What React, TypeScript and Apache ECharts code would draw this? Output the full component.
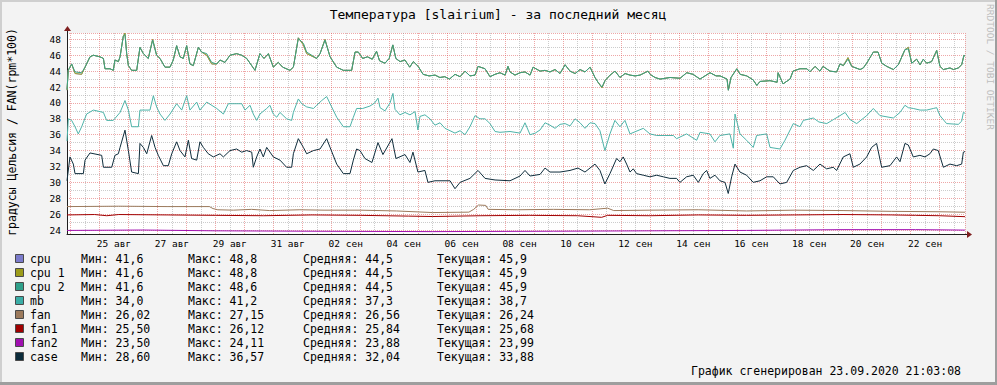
import React, { useEffect, useRef } from "react";
import * as echarts from "echarts";

// Time is in hours since 24.08.2020 00:00; the graph covers 23.08 21:03 -> 23.09 21:03
const T_START = -2.95;
const T_END = 741.05;
const Y_MIN = 23.5;
const Y_MAX = 48.8;

const dayLabels = [
  "25 авг", "27 авг", "29 авг", "31 авг", "02 сен", "04 сен", "06 сен", "08 сен",
  "10 сен", "12 сен", "14 сен", "16 сен", "18 сен", "20 сен", "22 сен",
];
const LABEL_FIRST_H = 36; // 25 авг 12:00
const LABEL_STEP_H = 48;

const seriesNames = ["cpu", "cpu 1", "cpu 2", "mb", "fan", "fan1", "fan2", "case"];
const seriesColors = ["#7B7BCB", "#9C9C1A", "#2FA08A", "#3AADA6", "#9C7A5C", "#A00000", "#A010B0", "#0B2B3B"];
const lineColors = ["#7B7BCB", "#A6A628", "#3A9F82", "#4DB3A8", "#9C7A5C", "#A00000", "#A010B0", "#0F2D3C"];
const legendMin = ["41,6", "41,6", "41,6", "34,0", "26,02", "25,50", "23,50", "28,60"];
const legendMax = ["48,8", "48,8", "48,6", "41,2", "27,15", "26,12", "24,11", "36,57"];
const legendAvg = ["44,5", "44,5", "44,5", "37,3", "26,56", "25,84", "23,88", "32,04"];
const legendCur = ["45,9", "45,9", "45,9", "38,7", "26,24", "25,68", "23,99", "33,88"];

const title = "Температура [slairium] - за последний месяц";
const yTitle = "градусы Цельсия / FAN(rpm*100)";
const footer = "График сгенерирован 23.09.2020 21:03:08";
const watermark = "RRDTOOL / TOBI OETIKER";

// cpu and cpu 1 share the same readings
const cpuPts: [number, number][] = [
  [-2.95, 41.6], [-1.9, 44.1], [0.9, 44.9], [3.7, 43.7], [9.2, 43.6], [12.0, 44.5], [16.1, 45.8], [18.9, 46.0],
  [24.4, 45.8], [27.2, 45.6], [28.5, 44.3], [32.7, 44.3], [35.4, 44.1], [36.8, 45.4], [39.6, 45.2], [41.0, 45.8],
  [43.7, 48.4], [45.1, 48.8], [46.5, 46.2], [47.9, 44.7], [50.6, 44.1], [54.8, 44.1], [57.5, 47.0], [60.3, 46.2],
  [64.4, 45.6], [68.0, 48.0], [71.3, 46.0], [74.1, 45.6], [78.2, 44.5], [82.4, 44.5], [85.1, 45.4], [87.9, 47.2],
  [90.7, 45.8], [93.4, 45.6], [96.2, 47.2], [98.9, 44.9], [101.7, 44.7], [105.9, 47.0], [108.6, 46.4], [112.8, 46.0],
  [116.9, 44.9], [121.1, 44.9], [123.8, 45.4], [127.9, 45.1], [132.1, 46.0], [137.6, 46.2], [141.8, 46.0], [145.9, 45.6],
  [152.8, 44.1], [156.9, 46.2], [160.3, 45.6], [163.9, 46.2], [168.0, 44.5], [172.1, 45.1], [175.7, 44.5], [181.8, 44.1],
  [184.6, 44.5], [188.7, 48.2], [192.9, 47.3], [195.6, 46.2], [203.9, 45.6], [206.7, 46.2], [210.8, 48.0], [215.0, 45.8],
  [220.5, 44.5], [226.0, 44.1], [232.9, 44.1], [235.7, 46.4], [238.4, 46.4], [242.0, 45.6], [246.0, 45.8], [250.0, 45.5],
  [253.5, 46.5], [256.0, 45.3], [260.5, 45.0], [264.0, 45.6], [267.0, 47.3], [269.5, 45.6], [273.0, 45.2], [277.0, 45.4],
  [281.0, 44.5], [284.0, 45.2], [288.0, 44.6], [292.0, 43.6], [297.0, 43.4], [302.0, 43.5], [306.0, 43.2], [310.0, 43.3],
  [314.0, 43.0], [318.5, 43.6], [322.7, 43.3], [326.8, 44.0], [330.9, 43.4], [335.1, 43.5], [337.6, 44.6], [343.4, 44.3],
  [347.5, 43.3], [351.7, 43.6], [355.8, 43.8], [360.0, 43.5], [362.4, 44.6], [364.1, 43.9], [368.2, 43.5], [372.4, 43.8],
  [376.5, 43.9], [380.7, 43.5], [383.2, 44.5], [389.0, 44.0], [393.1, 44.1], [397.2, 43.9], [401.4, 44.2], [405.5, 43.7],
  [409.7, 44.8], [413.8, 44.0], [418.0, 43.7], [422.1, 44.2], [426.2, 43.9], [430.4, 44.5], [434.5, 43.2], [437.0, 42.6],
  [440.3, 41.9], [442.8, 42.8], [447.0, 43.5], [451.1, 44.0], [455.2, 43.2], [459.4, 43.7], [463.5, 43.5], [467.7, 43.4],
  [471.8, 43.5], [478.4, 44.0], [480.1, 43.6], [484.2, 43.2], [488.4, 43.0], [496.7, 43.2], [505.0, 43.1], [510.5, 43.8],
  [515.7, 43.6], [521.5, 43.0], [529.8, 43.8], [534.8, 43.4], [538.1, 43.4], [543.9, 43.0], [545.0, 41.6], [547.2, 43.2],
  [552.0, 44.3], [554.7, 43.6], [560.2, 43.4], [565.5, 42.9], [568.6, 42.2], [571.2, 42.7], [579.5, 42.8], [585.4, 42.6],
  [586.2, 43.8], [590.3, 42.4], [596.1, 43.0], [598.6, 44.0], [604.3, 44.3], [610.1, 44.3], [612.6, 43.9], [616.8, 44.6],
  [620.9, 44.0], [623.4, 44.6], [629.2, 44.0], [634.7, 43.9], [637.5, 44.9], [640.3, 44.7], [644.1, 45.7], [647.2, 44.6],
  [654.1, 44.2], [656.8, 44.4], [659.6, 45.0], [665.1, 46.4], [669.0, 46.4], [672.1, 45.0], [676.2, 44.6], [678.9, 44.4],
  [681.7, 44.2], [685.8, 44.8], [691.3, 46.7], [694.1, 47.0], [696.9, 45.0], [701.0, 45.5], [703.8, 44.8], [706.5, 45.5],
  [709.3, 45.0], [713.4, 45.2], [717.6, 46.6], [720.3, 44.6], [723.1, 44.2], [728.6, 44.4], [731.4, 44.2], [735.5, 44.4],
  [738.3, 44.8], [740.2, 46.0], [741.05, 45.9],
];

const cpu2Pts: [number, number][] = [
  [-2.95, 41.7], [-1.9, 44.1], [0.9, 44.9], [3.7, 43.9], [9.2, 43.8], [12.0, 44.5], [16.1, 45.8], [18.9, 46.0],
  [24.4, 45.8], [27.2, 45.6], [28.5, 44.3], [32.7, 44.3], [35.4, 44.1], [36.8, 45.4], [39.6, 45.2], [41.0, 45.8],
  [43.7, 48.4], [45.1, 48.6], [46.5, 46.2], [47.9, 44.7], [50.6, 44.1], [54.8, 44.1], [57.5, 47.0], [60.3, 46.2],
  [64.4, 45.6], [68.0, 47.9], [71.3, 46.0], [74.1, 45.6], [78.2, 44.5], [82.4, 44.5], [85.1, 45.4], [87.9, 47.2],
  [90.7, 45.8], [93.4, 45.6], [96.2, 47.2], [98.9, 44.9], [101.7, 44.7], [105.9, 47.0], [108.6, 46.4], [112.8, 46.2],
  [116.9, 45.1], [121.1, 44.9], [123.8, 45.4], [127.9, 45.1], [132.1, 46.0], [137.6, 46.2], [141.8, 46.0], [145.9, 45.6],
  [152.8, 44.1], [156.9, 46.2], [160.3, 45.6], [163.9, 46.2], [168.0, 44.5], [172.1, 45.1], [175.7, 44.5], [181.8, 44.1],
  [184.6, 44.5], [188.7, 48.1], [192.9, 47.5], [195.6, 46.4], [203.9, 45.6], [206.7, 46.2], [210.8, 47.9], [215.0, 45.8],
  [220.5, 44.5], [226.0, 44.1], [232.9, 44.1], [235.7, 46.4], [238.4, 46.4], [242.0, 45.6], [246.0, 45.8], [250.0, 45.5],
  [253.5, 46.5], [256.0, 45.3], [260.5, 45.0], [264.0, 45.6], [267.0, 47.3], [269.5, 45.6], [273.0, 45.2], [277.0, 45.4],
  [281.0, 44.5], [284.0, 45.2], [288.0, 44.6], [292.0, 43.6], [297.0, 43.4], [302.0, 43.5], [306.0, 43.2], [310.0, 43.3],
  [314.0, 43.0], [318.5, 43.6], [322.7, 43.3], [326.8, 44.0], [330.9, 43.4], [335.1, 43.5], [337.6, 44.6], [343.4, 44.3],
  [347.5, 43.3], [351.7, 43.6], [355.8, 43.8], [360.0, 43.5], [362.4, 44.6], [364.1, 43.9], [368.2, 43.5], [372.4, 43.8],
  [376.5, 43.9], [380.7, 43.5], [383.2, 44.5], [389.0, 44.0], [393.1, 44.1], [397.2, 43.9], [401.4, 44.2], [405.5, 43.7],
  [409.7, 44.8], [413.8, 44.0], [418.0, 43.7], [422.1, 44.2], [426.2, 43.9], [430.4, 44.5], [434.5, 43.2], [437.0, 42.6],
  [440.3, 42.0], [442.8, 42.8], [447.0, 43.5], [451.1, 44.0], [455.2, 43.2], [459.4, 43.7], [463.5, 43.5], [467.7, 43.4],
  [471.8, 43.5], [478.4, 44.0], [480.1, 43.6], [484.2, 43.2], [488.4, 43.0], [496.7, 43.2], [505.0, 43.1], [510.5, 43.8],
  [515.7, 43.6], [521.5, 43.0], [529.8, 43.8], [534.8, 43.4], [538.1, 43.4], [543.9, 43.0], [545.0, 41.6], [547.2, 43.2],
  [552.0, 44.3], [554.7, 43.6], [560.2, 43.4], [565.5, 42.9], [568.6, 42.2], [571.2, 42.7], [579.5, 42.8], [585.4, 42.6],
  [586.2, 43.8], [590.3, 42.4], [596.1, 43.0], [598.6, 44.0], [604.3, 44.3], [610.1, 44.3], [612.6, 43.9], [616.8, 44.6],
  [620.9, 44.0], [623.4, 44.6], [629.2, 44.0], [634.7, 43.9], [637.5, 44.9], [640.3, 44.7], [644.1, 45.5], [647.2, 44.6],
  [654.1, 44.2], [656.8, 44.4], [659.6, 45.0], [665.1, 46.4], [669.0, 46.4], [672.1, 45.0], [676.2, 44.6], [678.9, 44.4],
  [681.7, 44.2], [685.8, 44.8], [691.3, 46.7], [694.1, 46.8], [696.9, 45.0], [701.0, 45.5], [703.8, 44.8], [706.5, 45.5],
  [709.3, 45.0], [713.4, 45.2], [717.6, 46.6], [720.3, 44.6], [723.1, 44.2], [728.6, 44.4], [731.4, 44.2], [735.5, 44.4],
  [738.3, 44.8], [740.2, 46.0], [741.05, 45.9],
];

const mbPts: [number, number][] = [
  [-2.95, 35.2], [-1.85, 38.0], [0.9, 37.8], [3.7, 37.0], [6.4, 36.1], [9.2, 37.0], [13.3, 38.6], [18.9, 39.1],
  [27.2, 38.8], [29.9, 37.8], [35.4, 37.8], [41.0, 38.8], [45.1, 40.3], [47.9, 39.1], [50.6, 37.0], [56.2, 37.0],
  [57.5, 39.1], [65.8, 39.1], [68.6, 40.9], [71.3, 39.5], [74.1, 38.6], [78.2, 37.8], [82.4, 38.6], [87.9, 39.9],
  [92.1, 39.1], [96.2, 40.9], [98.9, 39.1], [104.5, 40.1], [107.2, 39.1], [112.8, 40.1], [121.1, 39.3], [126.6, 38.6],
  [130.7, 39.9], [141.8, 39.9], [144.5, 39.1], [148.7, 39.7], [151.4, 38.6], [154.2, 37.8], [156.9, 38.6], [162.5, 39.3],
  [165.2, 39.7], [168.0, 38.6], [170.8, 38.2], [173.5, 38.8], [179.0, 38.0], [183.2, 37.8], [184.6, 38.8], [188.7, 40.5],
  [191.5, 39.9], [195.6, 39.5], [201.2, 39.3], [203.9, 39.7], [208.1, 40.3], [212.2, 40.8], [216.3, 39.5], [220.5, 38.2],
  [226.0, 37.0], [231.5, 37.0], [234.3, 38.2], [237.0, 39.3], [242.0, 39.3], [248.0, 39.6], [252.0, 40.0], [254.7, 40.6],
  [256.4, 39.4], [260.5, 39.0], [264.7, 40.0], [267.1, 41.2], [268.8, 39.2], [272.9, 38.5], [277.1, 38.8], [281.2, 38.5],
  [285.4, 38.9], [287.8, 36.6], [289.5, 38.3], [293.6, 38.5], [297.8, 38.0], [301.9, 37.2], [306.1, 37.5], [310.2, 36.8],
  [314.4, 36.5], [318.5, 36.2], [322.7, 36.5], [326.8, 36.0], [330.9, 37.0], [335.1, 38.4], [339.2, 38.0], [343.4, 38.0],
  [347.5, 37.4], [351.7, 36.4], [355.8, 36.3], [364.1, 36.4], [372.4, 36.2], [376.5, 37.5], [380.7, 36.0], [385.0, 36.2],
  [389.0, 36.6], [393.1, 37.5], [397.2, 37.2], [401.4, 36.8], [405.5, 37.3], [409.7, 37.4], [413.8, 37.1], [418.0, 38.0],
  [422.1, 37.5], [426.2, 36.8], [430.4, 37.5], [434.5, 37.4], [438.6, 36.5], [442.7, 34.0], [446.9, 36.1], [451.0, 37.8],
  [455.2, 37.0], [459.3, 37.8], [463.5, 36.1], [474.5, 36.8], [480.0, 36.1], [485.6, 35.9], [499.4, 35.9], [502.1, 35.5],
  [510.4, 36.1], [518.7, 35.3], [521.5, 36.3], [529.7, 36.1], [533.9, 35.1], [538.0, 35.9], [546.3, 36.1], [549.1, 34.3],
  [550.5, 38.6], [554.6, 36.1], [560.1, 35.3], [565.6, 34.4], [568.4, 35.9], [576.7, 36.1], [579.5, 34.4], [587.7, 34.2],
  [591.9, 35.3], [598.8, 37.4], [604.3, 37.0], [607.1, 37.8], [615.4, 38.1], [620.0, 37.6], [626.5, 37.4], [632.0, 37.9],
  [637.5, 38.4], [641.7, 38.8], [645.8, 37.9], [651.3, 37.4], [659.6, 38.4], [665.1, 39.3], [670.6, 38.4], [681.7, 38.1],
  [687.2, 38.8], [691.3, 39.7], [694.1, 39.4], [698.2, 39.3], [703.8, 39.1], [709.3, 39.1], [714.8, 39.3], [717.6, 39.4],
  [720.3, 38.4], [725.8, 37.4], [735.5, 37.3], [738.3, 37.7], [739.7, 38.8], [741.05, 38.7],
];

const fanPts: [number, number][] = [
  [-2.95, 26.95], [40, 27.0], [80, 26.95], [115, 26.95], [118, 26.7], [122, 26.55], [135, 26.5], [150, 26.6],
  [165, 26.45], [190, 26.55], [210, 26.5], [240, 26.5], [270, 26.4], [300, 26.2], [330, 26.25], [334, 26.6],
  [338, 27.15], [344, 27.1], [346, 26.6], [370, 26.55], [400, 26.6], [430, 26.55], [445, 26.75], [450, 26.45],
  [480, 26.5], [520, 26.55], [560, 26.4], [600, 26.5], [640, 26.45], [680, 26.35], [720, 26.3], [741.05, 26.24],
];

const fan1Pts: [number, number][] = [
  [-2.95, 25.9], [20, 25.95], [30, 25.8], [40, 25.95], [80, 25.9], [120, 25.85], [160, 25.8], [200, 25.9],
  [240, 25.85], [280, 25.75], [300, 25.7], [340, 25.8], [380, 25.85], [420, 25.8], [440, 25.6], [445, 25.85],
  [480, 25.8], [520, 25.9], [560, 25.85], [600, 25.9], [640, 25.95], [680, 25.9], [700, 25.85], [720, 25.8],
  [741.05, 25.68],
];

const fan2Pts: [number, number][] = [
  [-2.95, 23.95], [60, 24.0], [120, 23.9], [200, 23.85], [300, 23.8], [400, 23.85], [480, 23.9], [560, 23.95],
  [640, 24.05], [700, 24.05], [741.05, 23.99],
];

const casePts: [number, number][] = [
  [-2.95, 30.2], [-0.5, 33.2], [2.3, 32.3], [3.7, 31.1], [10.6, 31.1], [12.0, 32.8], [16.1, 33.7], [25.8, 33.4],
  [27.2, 31.9], [34.1, 31.9], [36.8, 33.4], [39.6, 33.6], [41.0, 34.4], [45.1, 36.57], [47.9, 34.0], [50.6, 31.3],
  [56.2, 31.1], [57.5, 34.9], [60.3, 34.4], [63.1, 33.6], [67.2, 35.9], [70.0, 34.4], [72.7, 33.4], [76.9, 32.1],
  [81.0, 32.1], [83.8, 33.6], [87.9, 35.1], [90.7, 34.0], [94.8, 33.2], [97.6, 35.3], [100.3, 33.0], [104.5, 32.8],
  [107.2, 35.1], [110.0, 34.4], [114.1, 33.6], [118.3, 33.2], [123.8, 33.6], [126.6, 33.2], [132.1, 34.0], [137.6, 34.2],
  [141.8, 33.8], [145.9, 34.0], [150.1, 33.8], [151.4, 31.9], [154.2, 33.2], [156.9, 34.2], [159.7, 33.2], [162.5, 34.4],
  [168.0, 33.2], [173.5, 32.8], [179.0, 31.9], [183.2, 31.9], [184.6, 33.6], [188.7, 35.5], [192.9, 34.4], [195.6, 33.6],
  [201.2, 34.0], [206.7, 34.2], [212.2, 35.5], [215.0, 34.4], [220.5, 32.3], [226.0, 31.1], [231.5, 31.1], [234.3, 32.8],
  [237.0, 34.2], [239.8, 34.0], [243.9, 33.0], [249.7, 32.5], [254.7, 35.0], [258.8, 33.5], [266.3, 35.5], [269.6, 33.0],
  [277.1, 33.5], [281.2, 32.5], [283.7, 33.8], [287.8, 31.3], [293.6, 31.5], [296.1, 30.0], [301.9, 30.2], [314.4, 30.2],
  [318.5, 29.2], [322.7, 30.0], [330.9, 30.5], [337.6, 31.5], [343.4, 30.5], [351.7, 30.3], [364.1, 30.2], [372.4, 30.8],
  [376.5, 31.5], [380.7, 30.8], [389.0, 31.0], [393.1, 31.8], [397.2, 31.3], [405.5, 31.3], [413.8, 31.5], [420.4, 31.8],
  [426.2, 31.3], [434.5, 32.3], [438.6, 31.5], [442.7, 29.8], [446.9, 31.1], [452.4, 33.0], [455.2, 32.6], [457.9, 33.2],
  [460.7, 32.3], [463.5, 31.3], [466.2, 31.7], [469.0, 31.1], [474.5, 30.9], [480.0, 30.7], [485.6, 30.9], [491.1, 30.7],
  [496.6, 30.5], [502.1, 30.5], [504.9, 30.0], [510.4, 30.7], [515.9, 30.9], [520.1, 30.0], [524.2, 31.1], [527.0, 31.5],
  [529.7, 30.5], [533.9, 30.9], [538.0, 30.2], [542.2, 30.0], [544.9, 28.6], [547.7, 30.7], [550.5, 32.3], [554.6, 31.3],
  [560.1, 30.9], [565.6, 30.0], [571.2, 30.2], [576.7, 30.7], [582.2, 30.7], [587.7, 29.8], [593.3, 30.0], [598.8, 31.5],
  [604.3, 31.9], [609.8, 32.1], [615.4, 31.5], [620.9, 32.3], [626.4, 31.7], [631.9, 31.9], [634.7, 31.5], [640.2, 33.2],
  [645.7, 33.6], [648.5, 31.9], [654.0, 32.3], [659.6, 33.2], [663.7, 34.4], [667.8, 34.9], [672.0, 31.9], [678.9, 32.1],
  [684.4, 33.2], [687.2, 32.6], [691.3, 34.9], [694.1, 34.7], [698.2, 33.2], [703.7, 33.4], [707.9, 33.2], [712.0, 33.6],
  [714.8, 34.2], [718.9, 34.0], [723.1, 31.9], [728.6, 32.3], [734.1, 32.1], [738.3, 32.3], [739.7, 33.8], [741.05, 33.88],
];

const seriesData = [cpuPts, cpuPts, cpu2Pts, mbPts, fanPts, fan1Pts, fan2Pts, casePts];

const FONT = '"DejaVu Sans Mono", monospace';

export default function App() {
  const ref = useRef<HTMLDivElement>(null);

  useEffect(() => {
    if (!ref.current) return;
    const chart = echarts.init(ref.current, undefined, { renderer: "svg" });

    const graphic: any[] = [];
    // frame shading
    graphic.push({ type: "rect", shape: { x: 0, y: 0, width: 997, height: 2 }, style: { fill: "#CFCFCF" }, silent: true });
    graphic.push({ type: "rect", shape: { x: 0, y: 0, width: 2, height: 385 }, style: { fill: "#CFCFCF" }, silent: true });
    graphic.push({ type: "rect", shape: { x: 0, y: 382, width: 997, height: 3 }, style: { fill: "#9E9E9E" }, silent: true });
    graphic.push({ type: "rect", shape: { x: 995, y: 0, width: 2, height: 385 }, style: { fill: "#9E9E9E" }, silent: true });
    // title
    graphic.push({
      type: "text", x: 498, y: 14, silent: true,
      style: { text: title, fill: "#000", font: `13px ${FONT}`, textAlign: "center", textVerticalAlign: "middle", align: "center", verticalAlign: "middle" },
    });
    // vertical axis title
    graphic.push({
      type: "text", x: 12, y: 132, rotation: Math.PI / 2, silent: true,
      style: { text: yTitle, fill: "#000", font: `11.5px ${FONT}`, textAlign: "center", textVerticalAlign: "middle", align: "center", verticalAlign: "middle" },
    });
    // watermark
    graphic.push({
      type: "text", x: 990, y: 67, rotation: -Math.PI / 2, silent: true,
      style: { text: watermark, fill: "#BDBDBD", font: `9.5px ${FONT}`, textAlign: "center", textVerticalAlign: "middle", align: "center", verticalAlign: "middle" },
    });
    // axis arrows
    graphic.push({ type: "line", shape: { x1: 965, y1: 234.5, x2: 969, y2: 234.5 }, style: { stroke: "#1F1F1F", lineWidth: 1 }, silent: true });
    graphic.push({ type: "polygon", shape: { points: [[967, 231], [972, 234.5], [967, 238]] }, style: { fill: "#7F1F1F" }, silent: true });
    graphic.push({ type: "line", shape: { x1: 67.5, y1: 33, x2: 67.5, y2: 29 }, style: { stroke: "#1F1F1F", lineWidth: 1 }, silent: true });
    graphic.push({ type: "polygon", shape: { points: [[64, 31], [67.5, 26], [71, 31]] }, style: { fill: "#7F1F1F" }, silent: true });
    // legend
    const cols = [81, 188, 303, 437];
    const prefixes = ["Мин: ", "Макс: ", "Средняя: ", "Текущая: "];
    const vals = [legendMin, legendMax, legendAvg, legendCur];
    seriesNames.forEach((name, i) => {
      const y = 259 + i * 14;
      graphic.push({
        type: "rect", shape: { x: 15.5, y: y - 4.5, width: 8, height: 8 }, silent: true,
        style: { fill: seriesColors[i], stroke: "#4A4A4A", lineWidth: 1 },
      });
      graphic.push({
        type: "text", x: 30, y, silent: true,
        style: { text: name, fill: "#000", font: `11.5px ${FONT}`, textAlign: "left", textVerticalAlign: "middle", align: "left", verticalAlign: "middle" },
      });
      cols.forEach((cx, k) => {
        graphic.push({
          type: "text", x: cx, y, silent: true,
          style: { text: prefixes[k] + vals[k][i], fill: "#000", font: `11.5px ${FONT}`, textAlign: "left", textVerticalAlign: "middle", align: "left", verticalAlign: "middle" },
        });
      });
    });
    // footer
    graphic.push({
      type: "text", x: 961, y: 371, silent: true,
      style: { text: footer, fill: "#000", font: `11.5px ${FONT}`, textAlign: "right", textVerticalAlign: "middle", align: "right", verticalAlign: "middle" },
    });

    const option: any = {
      animation: false,
      backgroundColor: "#F3F3F3",
      textStyle: { fontFamily: FONT },
      grid: { left: 67, top: 33, width: 898, height: 201, show: true, backgroundColor: "#FFFFFF", borderWidth: 0 },
      xAxis: [
        {
          type: "value", min: T_START, max: T_END, minInterval: 24, maxInterval: 24, position: "bottom",
          axisLine: { show: true, onZero: false, lineStyle: { color: "#1F1F1F", width: 1 } },
          axisTick: { show: false },
          axisLabel: { show: false },
          splitLine: { show: true, lineStyle: { color: "rgba(222,79,79,0.5)", type: [1, 1], width: 1 } },
          minorTick: { show: false, splitNumber: 2 },
          minorSplitLine: { show: true, lineStyle: { color: "rgba(143,143,143,0.45)", type: [1, 1], width: 1 } },
        },
        {
          type: "value", min: T_START - LABEL_FIRST_H, max: T_END - LABEL_FIRST_H, minInterval: LABEL_STEP_H, maxInterval: LABEL_STEP_H,
          position: "bottom", offset: 0,
          axisLine: { show: false, onZero: false },
          axisTick: { show: false },
          splitLine: { show: false },
          axisLabel: {
            show: true, margin: 4, color: "#000", fontSize: 9.5, fontFamily: FONT,
            formatter: (v: number) => {
              const i = Math.round(v / LABEL_STEP_H);
              if (Math.abs(v - i * LABEL_STEP_H) > 1e-6) return "";
              return dayLabels[i] ?? "";
            },
          },
        },
      ],
      yAxis: {
        type: "value", min: Y_MIN, max: Y_MAX, minInterval: 2, maxInterval: 2,
        axisLine: { show: true, onZero: false, lineStyle: { color: "#1F1F1F", width: 1 } },
        axisTick: { show: false },
        axisLabel: {
          show: true, margin: 6, color: "#000", fontSize: 9.5, fontFamily: FONT,
          formatter: (v: number) => {
            const r = Math.round(v);
            if (Math.abs(v - r) > 1e-6 || r % 2 !== 0) return "";
            return String(r);
          },
        },
        splitLine: { show: true, lineStyle: { color: "rgba(222,79,79,0.5)", type: [1, 1], width: 1 } },
        minorTick: { show: false, splitNumber: 2 },
        minorSplitLine: { show: true, lineStyle: { color: "rgba(143,143,143,0.45)", type: [1, 1], width: 1 } },
      },
      series: seriesNames.map((name, i) => ({
        name, type: "line", xAxisIndex: 0, yAxisIndex: 0,
        data: seriesData[i], showSymbol: false, symbol: "none", silent: true,
        lineStyle: { color: lineColors[i], width: 1 }, itemStyle: { color: lineColors[i] },
        emphasis: { disabled: true },
      })),
      graphic,
    };

    chart.setOption(option);
    return () => chart.dispose();
  }, []);

  return <div ref={ref} style={{ position: "absolute", left: 0, top: 0, width: 997, height: 385 }} />;
}
